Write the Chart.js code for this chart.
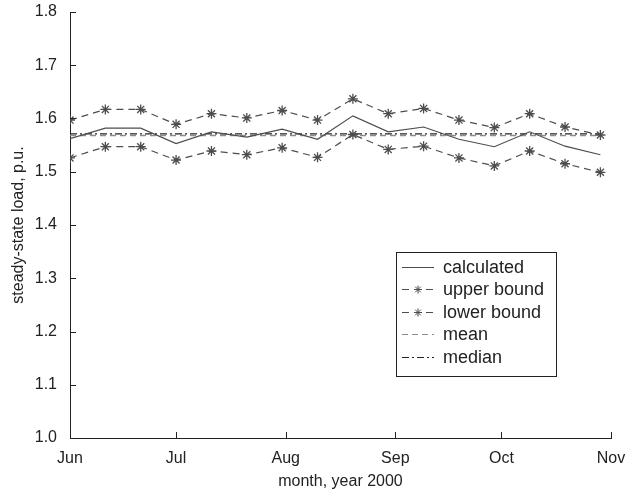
<!DOCTYPE html>
<html>
<head>
<meta charset="utf-8">
<script src="https://cdn.jsdelivr.net/npm/chart.js@4"></script>
<style>
  html, body { margin: 0; padding: 0; background: #fff; }
  #wrap { width: 627px; height: 501px; }
</style>
</head>
<body>
<div id="wrap"><canvas id="myChart" width="627" height="501"></canvas></div>
<script>
// days since 1 June 2000, one point every 10 days
const days = [0, 10, 20, 30, 40, 50, 60, 70, 80, 90, 100, 110, 120, 130, 140, 150];
const calculated = [1.562, 1.582, 1.582, 1.553, 1.575, 1.565, 1.580, 1.561, 1.605, 1.575, 1.584, 1.561, 1.547, 1.575, 1.548, 1.532];
const upperBound = [1.597, 1.617, 1.617, 1.589, 1.609, 1.601, 1.615, 1.597, 1.637, 1.609, 1.619, 1.597, 1.583, 1.609, 1.584, 1.569];
const lowerBound = [1.526, 1.547, 1.547, 1.522, 1.539, 1.532, 1.545, 1.527, 1.570, 1.542, 1.548, 1.526, 1.511, 1.539, 1.515, 1.499];
const meanValue = 1.568;
const medianValue = 1.571;

const monthLabels = ['Jun', 'Jul', 'Aug', 'Sep', 'Oct', 'Nov'];
const monthDays = [0, 30, 61, 92, 122, 153];
const yTicks = [1.0, 1.1, 1.2, 1.3, 1.4, 1.5, 1.6, 1.7, 1.8];

const FONT = 'Liberation Sans, Arial, sans-serif';
const ink = '#222';
const lineGrey = '#4d4d4d';

const pts = arr => arr.map((v, i) => ({ x: days[i], y: v }));
const flat = v => [{ x: days[0], y: v }, { x: days[days.length - 1], y: v }];

// ticks drawn inside the plot, like the original figure
const innerTicks = {
  id: 'innerTicks',
  afterDraw(chart) {
    const c = chart.ctx, x = chart.scales.x, y = chart.scales.y;
    const a = chart.chartArea;
    c.save();
    c.strokeStyle = ink;
    c.lineWidth = 1;
    c.beginPath();
    monthDays.forEach(d => {
      const px = Math.round(x.getPixelForValue(d)) + 0.5;
      c.moveTo(px, a.bottom);
      c.lineTo(px, a.bottom - 6);
    });
    yTicks.forEach(v => {
      const py = Math.round(y.getPixelForValue(v)) + 0.5;
      c.moveTo(a.left, py);
      c.lineTo(a.left + 6, py);
    });
    c.stroke();
    c.restore();
  }
};

// boxed legend inside the plot
const boxLegend = {
  id: 'boxLegend',
  afterDraw(chart) {
    const c = chart.ctx;
    const bx = 396.5, by = 252.5, bw = 160, bh = 124;
    c.save();
    c.fillStyle = '#fff';
    c.fillRect(bx, by, bw, bh);
    c.strokeStyle = ink;
    c.lineWidth = 1;
    c.strokeRect(bx, by, bw, bh);
    const rows = chart.data.datasets;
    c.font = '18px ' + FONT;
    c.textBaseline = 'middle';
    rows.forEach((ds, i) => {
      const yy = Math.round(by + 14 + i * 22.5) + 0.5;
      c.strokeStyle = ds.borderColor;
      c.lineWidth = 1;
      c.setLineDash(ds.borderDash || []);
      c.beginPath();
      c.moveTo(402, yy);
      c.lineTo(434, yy);
      c.stroke();
      c.setLineDash([]);
      if (ds.pointRadius > 0) {
        Chart.helpers.drawPoint(c, { pointStyle: 'star', radius: 4, borderWidth: 1 }, 418, yy);
      }
      c.fillStyle = ink;
      c.fillText(ds.label, 443, yy + 1);
    });
    c.restore();
  }
};

new Chart(document.getElementById('myChart'), {
  type: 'line',
  data: {
    datasets: [
      {
        label: 'calculated',
        data: pts(calculated),
        borderColor: lineGrey,
        borderWidth: 1.2,
        pointRadius: 0
      },
      {
        label: 'upper bound',
        data: pts(upperBound),
        borderColor: lineGrey,
        borderWidth: 1.2,
        borderDash: [7, 5],
        pointStyle: 'star',
        pointRadius: 5,
        pointBorderWidth: 1.3,
        pointBorderColor: lineGrey
      },
      {
        label: 'lower bound',
        data: pts(lowerBound),
        borderColor: lineGrey,
        borderWidth: 1.2,
        borderDash: [7, 5],
        pointStyle: 'star',
        pointRadius: 5,
        pointBorderWidth: 1.3,
        pointBorderColor: lineGrey
      },
      {
        label: 'mean',
        data: flat(meanValue),
        borderColor: '#8c8c8c',
        borderWidth: 1.5,
        borderDash: [6, 4],
        pointRadius: 0
      },
      {
        label: 'median',
        data: flat(medianValue),
        borderColor: '#222',
        borderWidth: 1.2,
        borderDash: [7, 3, 2, 3],
        pointRadius: 0
      }
    ]
  },
  options: {
    responsive: false,
    animation: false,
    layout: { padding: { top: 12, right: 16, left: 0, bottom: 0 } },
    plugins: {
      legend: { display: false },
      tooltip: { enabled: false }
    },
    scales: {
      x: {
        type: 'linear',
        min: 0,
        max: 153,
        afterBuildTicks: s => { s.ticks = monthDays.map(v => ({ value: v })); },
        afterFit: s => { s.height = 63; s.paddingLeft = 0; s.paddingRight = 0; },
        grid: { display: false, drawTicks: false },
        border: { display: true, color: ink, width: 1 },
        ticks: {
          padding: 11,
          maxRotation: 0,
          autoSkip: false,
          color: ink,
          font: { family: FONT, size: 16 },
          callback: (v, i) => monthLabels[i]
        },
        title: {
          display: true,
          text: 'month, year 2000',
          color: ink,
          font: { family: FONT, size: 16 },
          padding: { top: 4, bottom: 10 }
        }
      },
      y: {
        min: 1.0,
        max: 1.8,
        afterBuildTicks: s => { s.ticks = yTicks.map(v => ({ value: v })); },
        afterFit: s => { s.width = 70; s.paddingTop = 0; s.paddingBottom = 0; },
        grid: { display: false, drawTicks: false },
        border: { display: true, color: ink, width: 1 },
        ticks: {
          padding: 13,
          color: ink,
          font: { family: FONT, size: 16 },
          callback: v => v.toFixed(1)
        },
        title: {
          display: true,
          text: 'steady-state load, p.u.',
          color: ink,
          font: { family: FONT, size: 16 },
          padding: { top: 9, bottom: 4 }
        }
      }
    }
  },
  plugins: [innerTicks, boxLegend]
});
</script>
</body>
</html>
